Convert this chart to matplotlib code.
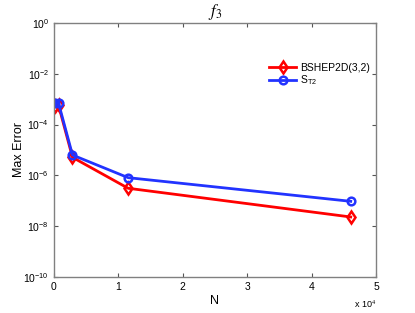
import matplotlib
matplotlib.use("Agg")
import matplotlib.pyplot as plt
import numpy as np

# data
N = [180, 720, 2880, 11520, 46080]
err_bshep = [5.4e-4, 5.6e-4, 5.1e-6, 3.1e-7, 2.3e-8]
err_st2 = [7.0e-4, 6.8e-4, 6.3e-6, 8.1e-7, 9.5e-8]

plt.rcParams['font.family'] = ['Liberation Sans', 'DejaVu Sans']
plt.rcParams['mathtext.fontset'] = 'stix'

fig = plt.figure(figsize=(4.15, 3.13), dpi=100)
ax = fig.add_axes([0.130, 0.115, 0.776, 0.812])

ax.semilogy(N, err_bshep, color='#ff0000', lw=2, marker='d', ms=6, mfc='none',
            mew=1.8, label='BSHEP2D(3,2)')
ax.semilogy(N, err_st2, color='#2233ff', lw=2, marker='o', ms=5.5, mfc='none',
            mew=1.8, label=r'S$_{\mathregular{T2}}$')

ax.set_xlim(0, 5e4)
ax.set_ylim(1e-10, 1)
ax.set_yticks([1e0, 1e-2, 1e-4, 1e-6, 1e-8, 1e-10])
ax.yaxis.set_minor_locator(matplotlib.ticker.NullLocator())
ax.set_xticks(np.arange(0, 5.1e4, 1e4))
ax.set_xticklabels(['0', '1', '2', '3', '4', '5'])
ax.tick_params(direction='in', top=True, right=True, labelsize=7.5, length=3,
               color='#555555', width=0.8)
for s in ax.spines.values():
    s.set_color('#808080')
    s.set_linewidth(1.0)

ax.text(1.0, -0.085, r'x 10$^4$', transform=ax.transAxes, fontsize=6.5,
        ha='right', va='top')

ax.set_xlabel('N', fontsize=9, labelpad=2)
ax.set_ylabel('Max Error', fontsize=9, labelpad=-1)
ax.set_title(r'$f_3$', fontsize=12, pad=5)

ax.legend(loc='upper right', bbox_to_anchor=(0.995, 0.86), frameon=False,
          fontsize=7.5, handlelength=2.6, handletextpad=0.4, labelspacing=0.1,
          borderaxespad=0)

fig.savefig('out.png', dpi=100)
